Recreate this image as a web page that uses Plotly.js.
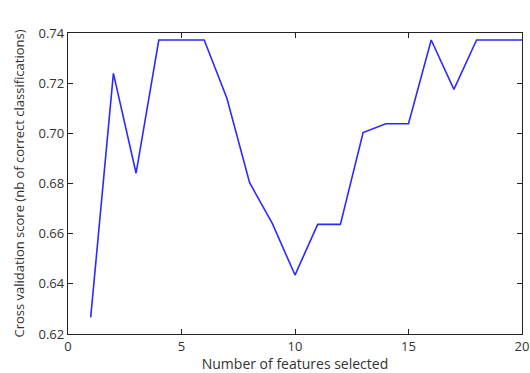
<!DOCTYPE html>
<html>
<head>
<meta charset="utf-8">
<script src="https://cdn.plot.ly/plotly-3.0.1.min.js"></script>
<style>html,body{margin:0;padding:0;background:#fff;}#chart{width:530px;height:373px;}</style>
</head>
<body>
<div id="chart"></div>
<script>
const nFeatures = [1,2,3,4,5,6,7,8,9,10,11,12,13,14,15,16,17,18,19,20];
const cvScores = [0.6266,0.7239,0.6841,0.7372,0.7372,0.7372,0.7140,0.6803,0.6641,0.6435,
                  0.6637,0.6637,0.7003,0.7038,0.7038,0.7372,0.7175,0.7372,0.7372,0.7372];
const xTitle = 'Number of features selected';
const yTitle = 'Cross validation score (nb of correct classifications)';

const fontFam = '"Open Sans", "DejaVu Sans", sans-serif';
const axisCommon = {
  showline: true, linecolor: '#222', linewidth: 1.2, mirror: 'ticks',
  ticks: 'inside', ticklen: 5, tickcolor: '#222', tickwidth: 1,
  showgrid: false, zeroline: false,
  tickfont: {family: fontFam, size: 13, color: '#333'}
};
Plotly.newPlot('chart', [{
  x: nFeatures, y: cvScores, type: 'scatter', mode: 'lines',
  line: {color: '#2b2bff', width: 1.6}
}], {
  width: 530, height: 373,
  margin: {l: 68, r: 8, t: 33, b: 39},
  paper_bgcolor: '#fff', plot_bgcolor: '#fff',
  showlegend: false,
  xaxis: Object.assign({}, axisCommon, {
    range: [0, 20], dtick: 5, tick0: 0,
    title: {text: xTitle, font: {family: fontFam, size: 14, color: '#333'}, standoff: 6}
  }),
  yaxis: Object.assign({}, axisCommon, {
    range: [0.62, 0.74], dtick: 0.02, tick0: 0.62, tickformat: '.2f',
    title: {text: yTitle, font: {family: fontFam, size: 13, color: '#333'}, standoff: 11}
  })
}, {staticPlot: true});
</script>
</body>
</html>
